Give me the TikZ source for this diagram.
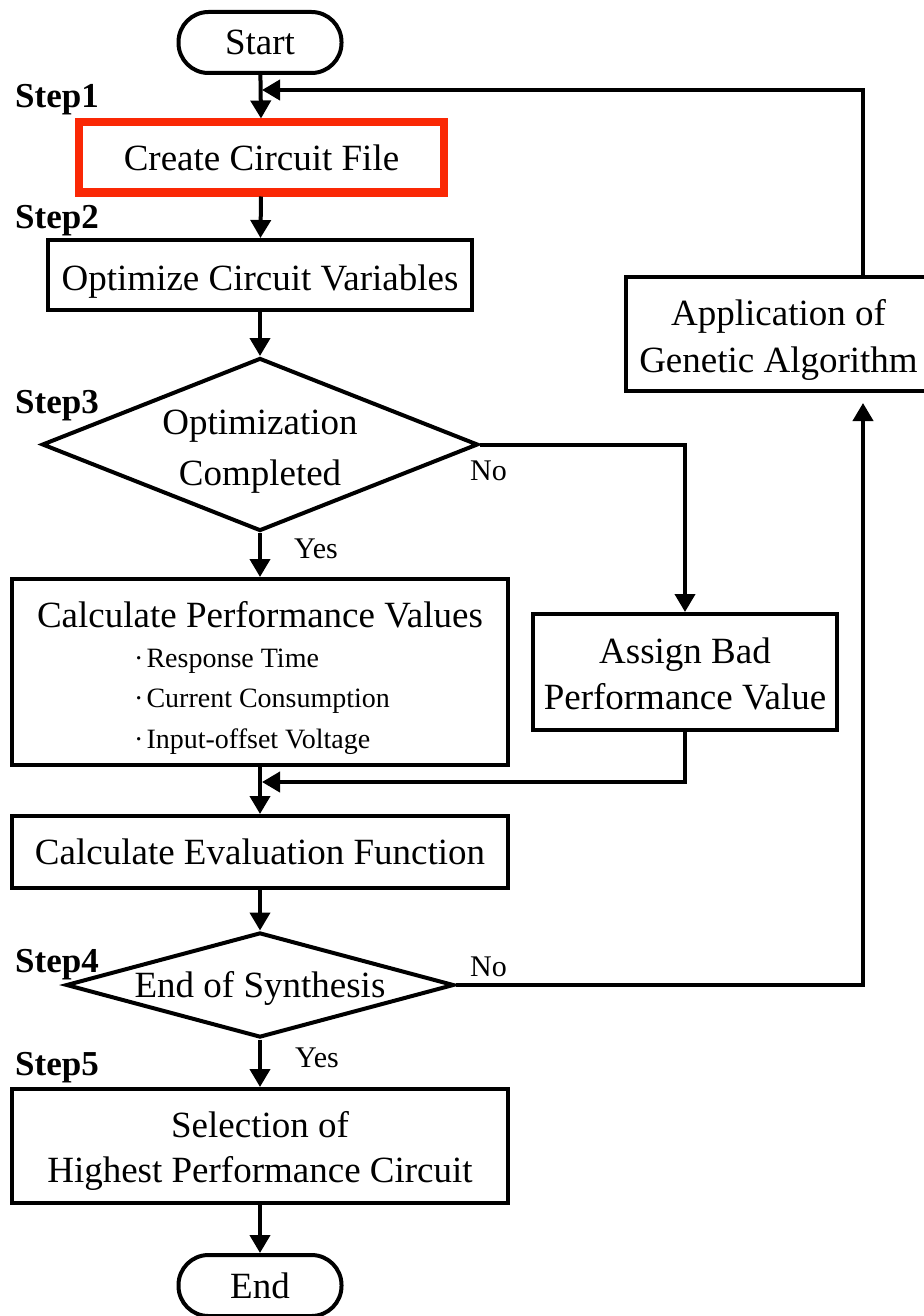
\documentclass[tikz,border=0pt]{standalone}
\usepackage{fontspec}
\setmainfont{Liberation Serif}
\usetikzlibrary{arrows.meta,shapes.geometric}
\definecolor{boxred}{RGB}{250,40,5}
\begin{document}
\begin{tikzpicture}[x=1pt,y=-1pt,
  every node/.style={font=\fontsize{37}{45}\selectfont},
  ln/.style={line width=4pt,line join=miter},
  arr/.style={ln,-{Triangle[length=18pt,width=20pt]}},
  box/.style={draw,ln,rectangle,inner sep=0pt,align=center},
  txt/.style={inner sep=0pt,align=center},
  term/.style={draw,ln,rectangle,rounded corners=30pt,minimum width=163pt,minimum height=61pt,inner sep=0pt},
  dia/.style={draw,ln,diamond,inner sep=0pt},
  steplbl/.style={anchor=base west,inner sep=0pt,font=\fontsize{35}{40}\selectfont\bfseries},
  yn/.style={anchor=base west,inner sep=0pt,font=\fontsize{30}{36}\selectfont},
  itemtxt/.style={anchor=base west,inner sep=0pt,font=\fontsize{28}{34}\selectfont}
]
\useasboundingbox (0,0) rectangle (923,1316);
\fill[white] (0,0) rectangle (923,1316);

% shapes
\node[term] (start) at (260,42.5) {Start};
\node[box,draw=boxred,line width=8pt,minimum width=365pt,minimum height=70pt] (create) at (261.5,157.5) {Create Circuit File};
\node[box,minimum width=424pt,minimum height=70pt] (opt) at (260,275) {};
\node[dia,minimum width=436pt,minimum height=173pt] (d1) at (260,444.5) {};
\node[box,minimum width=496pt,minimum height=186pt] (perf) at (260,672) {};
\node[box,minimum width=304pt,minimum height=116pt] (bad) at (685,672) {};
\node[box,minimum width=496pt,minimum height=72pt] (eval) at (260,852) {Calculate Evaluation Function};
\node[dia,minimum width=388pt,minimum height=105pt] (d2) at (260,985) {};
\node[box,minimum width=496pt,minimum height=114pt] (sel) at (260,1146) {};
\node[term] (end) at (260,1285.5) {End};
\node[box,minimum width=305pt,minimum height=114pt] (ga) at (778.5,334) {};

% texts
\node[txt] (optt) at (260,282) {Optimize Circuit Variables};
\node[txt] (d1t) at (260,451.5) {Optimization\\[6pt]Completed};
\node[anchor=base,inner sep=0pt] (perft) at (260,627) {Calculate Performance Values};
\node[itemtxt] (it1) at (134,667) {·\hspace{3pt}Response Time};
\node[itemtxt] (it2) at (134,707) {·\hspace{3pt}Current Consumption};
\node[itemtxt] (it3) at (134,748) {·\hspace{3pt}Input-offset Voltage};
\node[txt] (badt) at (685,673.5) {Assign Bad\\[1pt]Performance Value};
\node[txt] (d2t) at (260,988) {End of Synthesis};
\node[txt] (selt) at (260,1151) {Selection of\\Highest Performance Circuit};
\node[txt] (gat) at (778.5,340) {Application of\\[2pt]Genetic Algorithm};

% labels
\node[steplbl] (s1) at (15,108) {Step1};
\node[steplbl] (s2) at (15,228) {Step2};
\node[steplbl] (s3) at (15,413) {Step3};
\node[steplbl] (s4) at (15,972) {Step4};
\node[steplbl] (s5) at (15,1075) {Step5};
\node[yn] (no1) at (470,480) {No};
\node[yn] (no2) at (470,976) {No};
\node[yn] (yes1) at (294,558) {Yes};
\node[yn] (yes2) at (295,1067) {Yes};

% helper coordinates
\coordinate (gx) at (863,0);
\coordinate (m1) at (262,90);
\coordinate (m2) at (262,782);

% connectors
\draw[arr] (start) -- (create);
\draw[arr] (create) -- (opt);
\draw[arr] (opt) -- (d1);
\draw[arr] (d1) -- (perf);
\draw[arr] (d1.east) -| (bad.north);
\draw[arr] (bad.south) |- (m2);
\draw[arr] (perf) -- (eval);
\draw[arr] (eval) -- (d2);
\draw[arr,shorten >=10pt] (d2.east) -| (ga.south -| gx);
\draw[arr] (ga.north -| gx) |- (m1);
\draw[arr] (d2) -- (sel);
\draw[arr] (sel) -- (end);
\end{tikzpicture}
\end{document}
